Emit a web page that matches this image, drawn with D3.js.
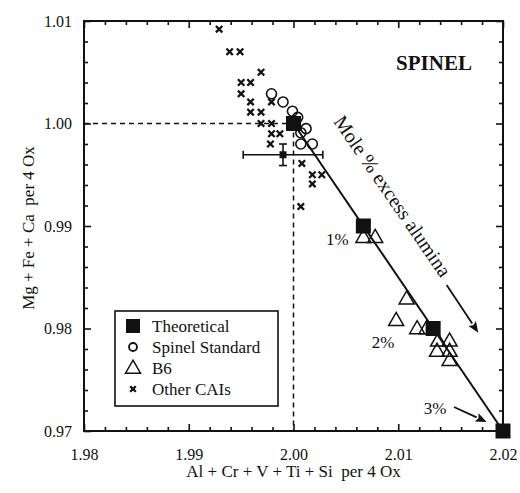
<!DOCTYPE html>
<html>
<head>
<meta charset="utf-8">
<script src="https://cdnjs.cloudflare.com/ajax/libs/d3/7.8.5/d3.min.js"></script>
<style>
  body { margin: 0; background: #fff; }
</style>
</head>
<body>
<div id="chart"></div>
<script>
// --- data ---
let theoretical = [[2.0, 1.0], [2.00667, 0.99], [2.01333, 0.98], [2.02, 0.97]];
let pctLabels = ["", "1%", "2%", "3%"];
let spinelStd = [[1.9979, 1.0029], [1.999, 1.0021], [1.9999, 1.0012], [2.0004, 1.0006],
  [2.0007, 0.9991], [2.0012, 0.9995], [2.0007, 0.998], [2.0018, 0.998]];
let b6 = [[2.00667, 0.9889], [2.0078, 0.9889], [2.0108, 0.9829], [2.0098, 0.9808],
  [2.0118, 0.98], [2.0127, 0.98], [2.0138, 0.9788], [2.0149, 0.9788],
  [2.0137, 0.9778], [2.0149, 0.9778], [2.0149, 0.9769]];
let otherCAIs = [[1.9929, 1.0092], [1.9939, 1.007], [1.9949, 1.007], [1.9969, 1.005],
  [1.995, 1.004], [1.9959, 1.004], [1.995, 1.0029], [1.9959, 1.0021], [1.9979, 1.0021],
  [1.9959, 1.0011], [1.9969, 1.0011], [1.9969, 1.0], [1.9979, 1.0], [1.9979, 0.999],
  [1.9987, 0.999], [1.9978, 0.998], [2.0008, 0.9961], [2.0018, 0.995], [2.0027, 0.995],
  [2.0018, 0.9941], [2.0007, 0.9919]];
let meanPt = { x: 1.999, y: 0.99695, ex: 0.0038, ey: 0.00105 };
let xMajor = [1.98, 1.99, 2.0, 2.01, 2.02];
let yMajor = [0.97, 0.98, 0.99, 1.0, 1.01];
let legendNames = ["Theoretical", "Spinel Standard", "B6", "Other CAIs"];

let serif = "Liberation Serif";
let W = 520, H = 493;
let margin = { top: 21, right: 17, bottom: 62, left: 84 };
let width = W - margin.left - margin.right;
let height = H - margin.top - margin.bottom;

let svg = d3.select("#chart").append("svg").attr("width", W).attr("height", H);
let g = svg.append("g").attr("transform", "translate(" + margin.left + "," + margin.top + ")");

let xs = d3.scaleLinear().domain([1.98, 2.02]).range([0, width]);
let ys = d3.scaleLinear().domain([0.97, 1.01]).range([height, 0]);

let xMinor = d3.range(0, 21).map(i => 1.98 + i * 0.002).filter(v => !xMajor.some(m => Math.abs(m - v) < 1e-9));
let yMinor = d3.range(0, 21).map(i => 0.97 + i * 0.002).filter(v => !yMajor.some(m => Math.abs(m - v) < 1e-9));

function txt(sel, size) {
  return sel.attr("font-family", serif).style("font-family", serif)
    .attr("font-size", size).attr("fill", "#111");
}
function styleAxis(sel) {
  sel.attr("font-family", serif);
  sel.select(".domain").remove();
  sel.selectAll("line").attr("stroke", "#111").attr("stroke-width", 1.6);
  sel.selectAll("text").call(txt, 16);
}
// bottom
g.append("g").attr("transform", "translate(0," + height + ")")
  .call(d3.axisBottom(xs).tickValues(xMinor).tickSize(-4).tickFormat("")).call(styleAxis);
g.append("g").attr("transform", "translate(0," + height + ")")
  .call(d3.axisBottom(xs).tickValues(xMajor).tickSize(-7).tickPadding(18).tickFormat(d3.format(".2f")))
  .call(styleAxis);
// top
g.append("g").call(d3.axisTop(xs).tickValues(xMinor).tickSize(-4).tickFormat("")).call(styleAxis);
g.append("g").call(d3.axisTop(xs).tickValues(xMajor).tickSize(-7).tickFormat("")).call(styleAxis);
// left
g.append("g").call(d3.axisLeft(ys).tickValues(yMinor).tickSize(-4).tickFormat("")).call(styleAxis);
g.append("g").call(d3.axisLeft(ys).tickValues(yMajor).tickSize(-7).tickPadding(12).tickFormat(d3.format(".2f")))
  .call(styleAxis);
// right
g.append("g").attr("transform", "translate(" + width + ",0)")
  .call(d3.axisRight(ys).tickValues(yMinor).tickSize(-4).tickFormat("")).call(styleAxis);
g.append("g").attr("transform", "translate(" + width + ",0)")
  .call(d3.axisRight(ys).tickValues(yMajor).tickSize(-7).tickFormat("")).call(styleAxis);

g.append("rect").attr("width", width).attr("height", height)
  .attr("fill", "none").attr("stroke", "#111").attr("stroke-width", 2);

// dashed reference lines
g.append("line").attr("x1", xs(1.98)).attr("x2", xs(2.0)).attr("y1", ys(1.0)).attr("y2", ys(1.0))
  .attr("stroke", "#111").attr("stroke-width", 1.5).attr("stroke-dasharray", "5,4");
g.append("line").attr("x1", xs(2.0)).attr("x2", xs(2.0)).attr("y1", ys(1.0)).attr("y2", ys(0.97))
  .attr("stroke", "#111").attr("stroke-width", 1.5).attr("stroke-dasharray", "5,4");

// theoretical line
g.append("line")
  .attr("x1", xs(theoretical[0][0])).attr("y1", ys(theoretical[0][1]))
  .attr("x2", xs(theoretical[3][0])).attr("y2", ys(theoretical[3][1]))
  .attr("stroke", "#111").attr("stroke-width", 2);

// error bar point
let eb = g.append("g").attr("stroke", "#111").attr("stroke-width", 1.6);
eb.append("line").attr("x1", xs(meanPt.x - meanPt.ex)).attr("x2", xs(meanPt.x + meanPt.ex))
  .attr("y1", ys(meanPt.y)).attr("y2", ys(meanPt.y));
eb.append("line").attr("y1", ys(meanPt.y - meanPt.ey)).attr("y2", ys(meanPt.y + meanPt.ey))
  .attr("x1", xs(meanPt.x)).attr("x2", xs(meanPt.x));
[meanPt.x - meanPt.ex, meanPt.x + meanPt.ex].forEach(v => {
  eb.append("line").attr("x1", xs(v)).attr("x2", xs(v)).attr("y1", ys(meanPt.y) - 4).attr("y2", ys(meanPt.y) + 4);
});
[meanPt.y - meanPt.ey, meanPt.y + meanPt.ey].forEach(v => {
  eb.append("line").attr("y1", ys(v)).attr("y2", ys(v)).attr("x1", xs(meanPt.x) - 4).attr("x2", xs(meanPt.x) + 4);
});
g.append("rect").attr("x", xs(meanPt.x) - 3.5).attr("y", ys(meanPt.y) - 3.5)
  .attr("width", 7).attr("height", 7).attr("fill", "#111");

function crossPath(s) {
  return "M" + (-s) + "," + (-s) + "L" + s + "," + s + "M" + (-s) + "," + s + "L" + s + "," + (-s);
}
function triPath(w) {
  let h = w * 0.87;
  return "M0," + (-h * 0.6) + "L" + (w / 2) + "," + (h * 0.4) + "L" + (-w / 2) + "," + (h * 0.4) + "Z";
}

// other CAIs
g.selectAll(".cai").data(otherCAIs).enter().append("path")
  .attr("class", "cai")
  .attr("transform", d => "translate(" + xs(d[0]) + "," + ys(d[1]) + ")")
  .attr("d", crossPath(3.2))
  .attr("stroke", "#111").attr("stroke-width", 2.3).attr("fill", "none");

// spinel standard
g.selectAll(".std").data(spinelStd).enter().append("circle")
  .attr("class", "std")
  .attr("cx", d => xs(d[0])).attr("cy", d => ys(d[1])).attr("r", 5)
  .attr("fill", "none").attr("stroke", "#111").attr("stroke-width", 1.6);

// theoretical squares
g.selectAll(".theo").data(theoretical).enter().append("rect")
  .attr("class", "theo")
  .attr("x", d => xs(d[0]) - 7.5).attr("y", d => ys(d[1]) - 7.5)
  .attr("width", 15).attr("height", 15).attr("fill", "#111");

// B6 triangles
g.selectAll(".b6").data(b6).enter().append("path")
  .attr("class", "b6")
  .attr("transform", d => "translate(" + xs(d[0]) + "," + ys(d[1]) + ")")
  .attr("d", triPath(15))
  .attr("fill", "none").attr("stroke", "#111").attr("stroke-width", 1.5);

// percent labels
let pctOffsets = [null, [-26, 19], [-50, 19], [-68, -17]];
theoretical.forEach((d, i) => {
  if (!pctLabels[i]) return;
  g.append("text").attr("x", xs(d[0]) + pctOffsets[i][0]).attr("y", ys(d[1]) + pctOffsets[i][1])
    .attr("text-anchor", "middle").call(txt, 17).text(pctLabels[i]);
});

// arrows (line + filled head)
function arrow(a, b) {
  let x1 = xs(a[0]), y1 = ys(a[1]), x2 = xs(b[0]), y2 = ys(b[1]);
  let ang = Math.atan2(y2 - y1, x2 - x1);
  let L = 11, hw = 4.5;
  let bx = x2 - L * Math.cos(ang), by = y2 - L * Math.sin(ang);
  g.append("line").attr("x1", x1).attr("y1", y1).attr("x2", bx).attr("y2", by)
    .attr("stroke", "#111").attr("stroke-width", 1.8);
  let px = -Math.sin(ang) * hw, py = Math.cos(ang) * hw;
  g.append("path")
    .attr("d", "M" + x2 + "," + y2 + "L" + (bx + px) + "," + (by + py) + "L" + (bx + 2 * Math.cos(ang)) + "," + (by + 2 * Math.sin(ang)) +
      "L" + (bx - px) + "," + (by - py) + "Z")
    .attr("fill", "#111");
}
arrow([2.01532, 0.97234], [2.01844, 0.97088]);
arrow([2.01462, 0.98424], [2.01764, 0.97959]);

// rotated note
g.append("text")
  .attr("transform", "translate(" + (387 - margin.left) + "," + (200 - margin.top) + ") rotate(55.5)")
  .attr("text-anchor", "middle").call(txt, 20)
  .text("Mole % excess alumina");

// title
g.append("text").attr("x", 434 - margin.left).attr("y", 70 - margin.top)
  .attr("text-anchor", "middle").call(txt, 21).attr("font-weight", "bold")
  .text("SPINEL");

// legend
let lg = g.append("g").attr("transform", "translate(" + (115 - margin.left) + "," + (311 - margin.top) + ")");
lg.append("rect").attr("width", 163).attr("height", 95)
  .attr("fill", "#fff").attr("stroke", "#111").attr("stroke-width", 1.6);
legendNames.forEach((name, i) => {
  let cy = 15 + i * 21;
  let sym = lg.append("g").attr("transform", "translate(18," + cy + ")");
  if (i === 0) sym.append("rect").attr("x", -7).attr("y", -7).attr("width", 14).attr("height", 14).attr("fill", "#111");
  if (i === 1) sym.append("circle").attr("r", 4).attr("fill", "none").attr("stroke", "#111").attr("stroke-width", 1.8);
  if (i === 2) sym.append("path").attr("d", triPath(15)).attr("fill", "none").attr("stroke", "#111").attr("stroke-width", 1.5);
  if (i === 3) sym.append("path").attr("d", crossPath(2.8)).attr("stroke", "#111").attr("stroke-width", 2.3);
  lg.append("text").attr("x", 37).attr("y", cy + 6).call(txt, 17).text(name);
});

// axis titles
svg.append("text").attr("x", margin.left + width / 2).attr("y", 477)
  .attr("text-anchor", "middle").call(txt, 17)
  .attr("xml:space", "preserve").text("Al + Cr + V + Ti + Si  per 4 Ox");
svg.append("text").attr("transform", "translate(34,228) rotate(-90)")
  .attr("text-anchor", "middle").call(txt, 17)
  .attr("xml:space", "preserve").text("Mg + Fe + Ca  per 4 Ox");
</script>
</body>
</html>
